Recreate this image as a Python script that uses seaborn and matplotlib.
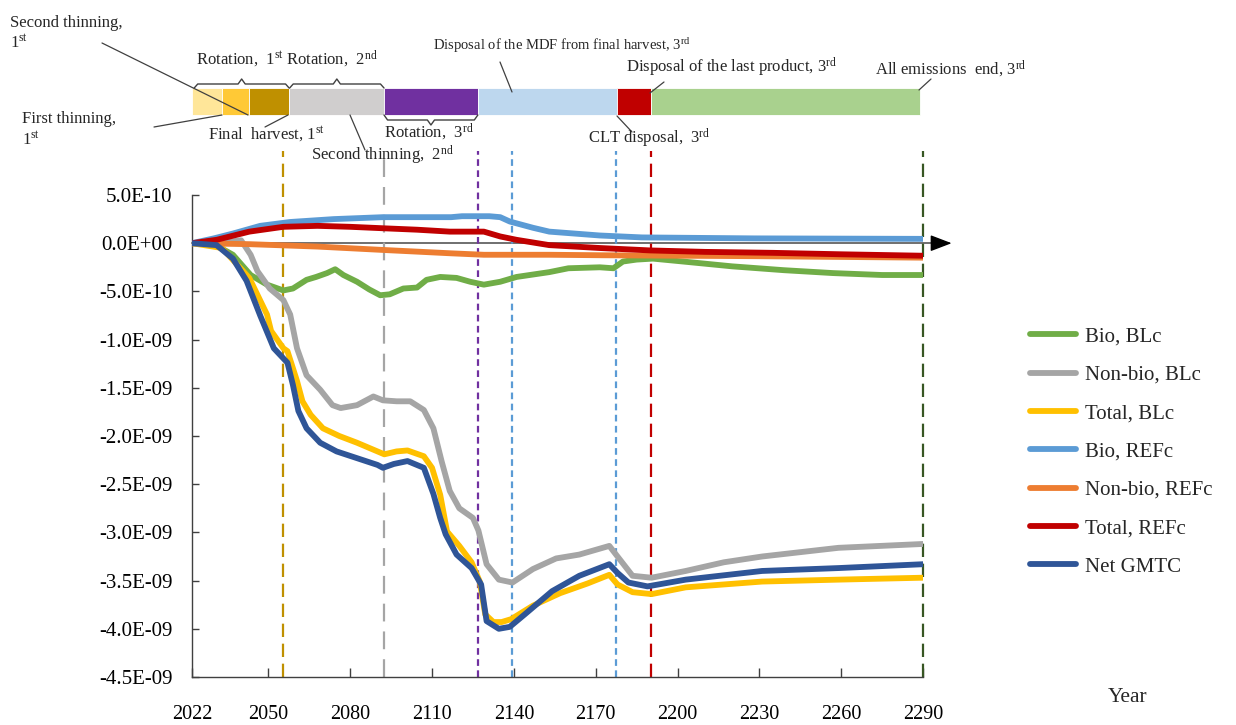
import numpy as np
import pandas as pd
import matplotlib
matplotlib.use("Agg")
import matplotlib.pyplot as plt
import seaborn as sns
from matplotlib.lines import Line2D
from matplotlib.ticker import FuncFormatter

# ---------------- data (values in units of 1E-10) ----------------
SERIES = ["Bio, BLc", "Non-bio, BLc", "Total, BLc", "Bio, REFc",
          "Non-bio, REFc", "Total, REFc", "Net GMTC"]
COLORS = ["#70AD47", "#A5A5A5", "#FFC000", "#5B9BD5",
          "#ED7D31", "#C00000", "#2F5597"]

BIO_BLC_YEAR = [2022, 2030, 2037, 2043.5, 2049.5, 2055.5, 2059, 2064, 2067.5, 2071.5, 2074.5,
                2077.5, 2082.5, 2087, 2091, 2094.5, 2099.5, 2104.5, 2108, 2113, 2119, 2124,
                2129, 2135, 2141, 2153, 2160, 2171.5, 2176.5, 2180, 2185, 2191, 2202, 2220,
                2239, 2257, 2275, 2290]
BIO_BLC_VAL = [0, -0.1, -1.2, -3.3, -4.3, -4.9, -4.7, -3.8, -3.5, -3.1, -2.7,
               -3.3, -4.0, -4.8, -5.4, -5.3, -4.7, -4.6, -3.8, -3.5, -3.6, -4.0,
               -4.3, -4.0, -3.5, -3.0, -2.6, -2.5, -2.6, -1.9, -1.7, -1.6, -1.9, -2.4,
               -2.8, -3.1, -3.3, -3.3]

NONBIO_BLC_YEAR = [2022, 2030, 2037, 2040, 2043.5, 2046, 2050.5, 2055.5, 2058, 2060.5, 2064,
                   2069, 2073.5, 2076.5, 2082.5, 2088.5, 2092, 2097, 2102, 2107, 2110.5,
                   2113.5, 2116.5, 2120, 2125, 2127, 2130, 2134.5, 2139.5, 2147, 2155.5,
                   2164, 2175, 2178, 2183.5, 2190.5, 2203, 2217, 2231, 2259, 2290]
NONBIO_BLC_VAL = [0, 0.05, 0.2, 0.3, -1.2, -2.9, -4.7, -5.9, -7.4, -10.9, -13.7,
                  -15.2, -16.8, -17.1, -16.8, -15.9, -16.3, -16.4, -16.4, -17.3, -19.2,
                  -22.6, -25.7, -27.5, -28.5, -29.8, -33.3, -34.9, -35.2, -33.8, -32.7,
                  -32.3, -31.4, -32.5, -34.5, -34.7, -34.0, -33.1, -32.5, -31.6, -31.2]

TOTAL_BLC_YEAR = [2022, 2033, 2043, 2049.5, 2051, 2055.5, 2057, 2060.5, 2062.5, 2065.5, 2070,
                  2076, 2082.5, 2090, 2092.5, 2097, 2101, 2107, 2110, 2113, 2115.5, 2120,
                  2124.5, 2127.5, 2129.5, 2132.5, 2135.5, 2139, 2147, 2157, 2167, 2175,
                  2178, 2183.5, 2190.5, 2203, 2231, 2259, 2290]
TOTAL_BLC_VAL = [0, -0.5, -3.6, -7.4, -9.1, -10.9, -11.2, -14.3, -16.4, -17.8, -19.2,
                 -20.0, -20.7, -21.6, -21.9, -21.6, -21.5, -22.1, -23.3, -26.1, -29.9, -31.4,
                 -33.1, -35.1, -38.5, -39.3, -39.3, -39.0, -37.6, -36.3, -35.3, -34.4,
                 -35.4, -36.2, -36.4, -35.7, -35.1, -34.9, -34.7]

BIO_REFC_YEAR = [2022, 2030, 2037, 2047, 2058, 2074, 2092, 2117, 2121, 2131, 2135, 2138.5,
                 2147, 2153, 2171.5, 2187, 2228, 2290]
BIO_REFC_VAL = [0, 0.5, 1.0, 1.8, 2.2, 2.5, 2.7, 2.7, 2.8, 2.8, 2.7, 2.25,
                1.6, 1.2, 0.8, 0.6, 0.5, 0.45]

NONBIO_REFC_YEAR = [2022, 2043, 2068, 2092, 2117, 2129, 2153, 2172, 2230, 2290]
NONBIO_REFC_VAL = [0, -0.1, -0.35, -0.7, -1.05, -1.2, -1.2, -1.25, -1.35, -1.5]

TOTAL_REFC_YEAR = [2022, 2031, 2043, 2055.5, 2068, 2080, 2092, 2104.5, 2116.5, 2129, 2135,
                   2141, 2153, 2171.5, 2190, 2210, 2235, 2260, 2290]
TOTAL_REFC_VAL = [0, 0.35, 1.2, 1.7, 1.8, 1.7, 1.55, 1.4, 1.2, 1.2, 0.7,
                  0.35, -0.2, -0.5, -0.75, -0.9, -1.0, -1.15, -1.3]

NET_YEAR = [2022, 2031, 2037, 2042, 2047, 2052, 2057, 2059, 2061, 2064, 2069, 2075, 2082.5,
            2090, 2092, 2096, 2101, 2107, 2110.5, 2113, 2115, 2119, 2124.5, 2128, 2130,
            2134.5, 2138.5, 2144, 2154, 2164, 2175, 2178, 2182, 2189, 2203, 2231, 2259, 2290]
NET_VAL = [0, -0.2, -1.6, -3.9, -7.5, -10.9, -12.4, -14.7, -17.4, -19.2, -20.7, -21.6, -22.3,
           -23.0, -23.3, -22.9, -22.6, -23.3, -26.0, -28.5, -30.2, -32.3, -33.7, -35.4, -39.2,
           -40.0, -39.8, -38.5, -36.1, -34.5, -33.3, -34.2, -35.2, -35.6, -34.9, -34.0, -33.7,
           -33.3]

X_TICKS = [2022, 2050, 2080, 2110, 2140, 2170, 2200, 2230, 2260, 2290]

# event marker lines
VLINE_YEARS = [2055.5, 2092.3, 2127, 2139.5, 2177.3, 2190.3, 2290]
VLINE_COLORS = ["#BF9000", "#A5A5A5", "#7030A0", "#5B9BD5", "#5B9BD5", "#C00000", "#375623"]
VLINE_DASH = [(6, 3), (8, 4.5), (3, 2), (3, 2), (3, 2), (6, 3), (6, 3)]

# timeline segments
SEG_BOUNDS = [2022, 2033, 2043, 2057.6, 2092.4, 2126.8, 2177.8, 2190.3, 2289]
SEG_COLORS = ["#FFE699", "#FFC936", "#BF9000", "#D0CECE", "#7030A0",
              "#BDD7EE", "#C00000", "#A9D18E"]

# ---------------- style ----------------
sns.set_theme(style="ticks")
plt.rcParams["font.family"] = ["Liberation Serif", "DejaVu Serif"]
plt.rcParams["mathtext.fontset"] = "custom"
plt.rcParams["mathtext.rm"] = "Liberation Serif"
plt.rcParams["mathtext.it"] = "Liberation Serif:italic"
plt.rcParams["mathtext.bf"] = "Liberation Serif:bold"

W, H = 1236, 725
fig = plt.figure(figsize=(W / 100, H / 100), dpi=100)
fig.patch.set_facecolor("white")

AX_L, AX_R, AX_T, AX_B = 192, 923, 195, 677
ax = fig.add_axes([AX_L / W, 1 - AX_B / H, (AX_R - AX_L) / W, (AX_B - AX_T) / H])

frames = []
for name, yrs, vals in zip(
        SERIES,
        [BIO_BLC_YEAR, NONBIO_BLC_YEAR, TOTAL_BLC_YEAR, BIO_REFC_YEAR,
         NONBIO_REFC_YEAR, TOTAL_REFC_YEAR, NET_YEAR],
        [BIO_BLC_VAL, NONBIO_BLC_VAL, TOTAL_BLC_VAL, BIO_REFC_VAL,
         NONBIO_REFC_VAL, TOTAL_REFC_VAL, NET_VAL]):
    frames.append(pd.DataFrame({"Year": yrs, "GMTC": np.array(vals) * 1e-10, "Series": name}))
df = pd.concat(frames, ignore_index=True)

x0, x1 = 2022, 2290
ymin, ymax = -4.5e-9, 5e-10
LW = 4.2

# zero axis with arrow
ax.plot([x0, 2294], [0, 0], color="#6f6f6f", lw=1.4, zorder=1.5, clip_on=False)
ax.annotate("", xy=(2300.5, 0), xytext=(2294, 0),
            arrowprops=dict(arrowstyle="-|>,head_length=1.1,head_width=0.42",
                            color="black", lw=1.0, shrinkA=0, shrinkB=0),
            annotation_clip=False)

sns.lineplot(data=df, x="Year", y="GMTC", hue="Series", hue_order=SERIES,
             palette=COLORS, linewidth=LW, estimator=None, legend=False,
             ax=ax, solid_capstyle="round", solid_joinstyle="round", zorder=3)

for yr, c, dash in zip(VLINE_YEARS, VLINE_COLORS, VLINE_DASH):
    ax.plot([yr, yr], [ymin, 9.6e-10], color=c, lw=1.6, dashes=dash,
            clip_on=False, zorder=2)

ax.set_xlim(x0, x1)
ax.set_ylim(ymin, ymax)
ax.set_xticks(X_TICKS)
ax.set_yticks([i * 5e-10 for i in range(-9, 2)])
ax.yaxis.set_major_formatter(FuncFormatter(lambda v, p: f"{v:.1E}"))
ax.set_xlabel("")
ax.set_ylabel("")
for s in ["top", "right"]:
    ax.spines[s].set_visible(False)
for s in ["left", "bottom"]:
    ax.spines[s].set_color("#404040")
    ax.spines[s].set_linewidth(1.0)
ax.tick_params(axis="x", direction="in", length=6.5, width=1, color="#404040",
               pad=20, labelsize=14.5, labelcolor="black", bottom=True)
ax.tick_params(axis="y", direction="in", length=5, width=1, color="#404040",
               pad=14, labelsize=15, labelcolor="black", left=True)
ax.set_facecolor("white")

handles = [Line2D([0], [0], color=c, lw=LW, solid_capstyle="round") for c in COLORS]
ax.legend(handles, SERIES, loc="upper left", bbox_to_anchor=(1030 / W, 1 - 327 / H),
          bbox_transform=fig.transFigure, frameon=False, fontsize=15,
          handlelength=2.2, handletextpad=0.45, labelspacing=0.9,
          borderpad=0, borderaxespad=0)

fig.text(1128 / W, 1 - 697 / H, "Year", ha="center", va="center", fontsize=15.5)

# ---------------- top timeline ----------------
TOP_H = 190
axt = fig.add_axes([AX_L / W, 1 - TOP_H / H, (AX_R - AX_L) / W, TOP_H / H])
axt.set_xlim(x0, x1)
axt.set_ylim(TOP_H, 0)
axt.axis("off")

for s, e, c in zip(SEG_BOUNDS[:-1], SEG_BOUNDS[1:], SEG_COLORS):
    axt.barh(101.5, e - s, left=s, height=27, color=c, edgecolor="white", linewidth=0.6)


def px_year(px):
    return x0 + (px - AX_L) * (x1 - x0) / (AX_R - AX_L)


def brace(xa, xb, yb, ym, yt):
    d = 1.3
    xc = (xa + xb) / 2
    axt.plot([xa, xa + d, xc - d, xc, xc + d, xb - d, xb],
             [yb, ym, ym, yt, ym, ym, yb], color="#404040", lw=1.0,
             clip_on=False, solid_joinstyle="round")


brace(SEG_BOUNDS[0] + 0.8, SEG_BOUNDS[3], 88, 84, 79)
brace(SEG_BOUNDS[3] + 0.2, SEG_BOUNDS[4], 88, 84, 79)
brace(SEG_BOUNDS[4], SEG_BOUNDS[5], 115, 120, 125)

SUP_ST = r"$^{\rm st}$"
SUP_ND = r"$^{\rm nd}$"
SUP_RD = r"$^{\rm rd}$"
labels = [
    ("Second thinning,", 10, 27, 12),
    ("1" + SUP_ST, 10, 47, 12),
    ("First thinning,", 22, 123, 12),
    ("1" + SUP_ST, 22, 144, 12),
    ("Rotation,  1" + SUP_ST, 196, 64, 12),
    ("Rotation,  2" + SUP_ND, 286, 64, 12),
    ("Final  harvest, 1" + SUP_ST, 208, 139, 12),
    ("Second thinning,  2" + SUP_ND, 311, 160, 12),
    ("Rotation,  3" + SUP_RD, 384, 137, 12),
    ("Disposal of the MDF from final harvest, 3" + SUP_RD, 433, 50, 10.5),
    ("Disposal of the last product, 3" + SUP_RD, 626, 72, 12),
    ("All emissions  end, 3" + SUP_RD, 875, 74, 12),
    ("CLT disposal,  3" + SUP_RD, 588, 143, 12),
]
for txt, xp, yp, fs in labels:
    axt.text(px_year(xp), yp, txt, ha="left", va="baseline", fontsize=fs, clip_on=False)

leaders = [
    ((102, 43), (248, 115)),
    ((154, 127), (222, 115)),
    ((265, 127), (288, 115)),
    ((365, 150), (350, 115)),
    ((500, 62), (512, 92)),
    ((664, 82), (650, 93)),
    ((931, 79), (919, 90)),
    ((632, 132), (617, 116)),
]
for (xa, ya), (xb, yb) in leaders:
    axt.plot([px_year(xa), px_year(xb)], [ya, yb], color="#404040", lw=0.9, clip_on=False)

fig.savefig("out.png", dpi=100, facecolor="white")
